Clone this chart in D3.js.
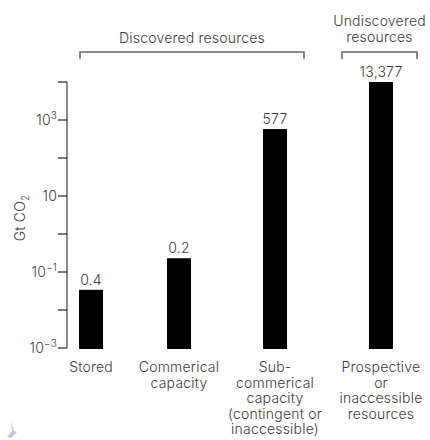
<!DOCTYPE html>
<html>
<head>
<meta charset="utf-8">
<script src="https://cdn.jsdelivr.net/npm/d3@7"></script>
<style>
  body { margin: 0; background: #fff; }
  svg text { font-family: Inter, "Open Sans", sans-serif; font-weight: 300; fill: #3a3a3a; letter-spacing: 0.2px; }
</style>
</head>
<body>
<svg id="chart" width="430" height="440"></svg>
<script>
// ***** Data ***** //
var categories = ['Stored', 'Commerical capacity', 'Sub-commerical capacity', 'Prospective or inaccessible resources'];
var values = [0.034, 0.23, 577, 13377];
var valueLabels = ['0.4', '0.2', '577', '13,377'];
var catLines = [
    ['Stored'],
    ['Commerical', 'capacity'],
    ['Sub-', 'commerical', 'capacity', '(contingent or', 'inaccessible)'],
    ['Prospective', 'or', 'inaccessible', 'resources']
];
var majorTicks = [1e3, 10, 1e-1, 1e-3];
var majorExp = ['3', '', '\u22121', '\u22123'];
var minorTicks = [1e4, 1e2, 1, 1e-2];

var svg = d3.select('#chart');
var fs = '14px';

// ***** Scales ***** //
var y = d3.scaleLog()
    .domain([1e-3, 1e4])
    .range([348, 82])
    .clamp(true);

var x = d3.scaleOrdinal()
    .domain(categories)
    .range([91, 179, 275, 381]);

var barW = 24;
var axisX = 67;
var grey = '#666';

// ***** Axis ***** //
svg.append('line')
    .attr('x1', axisX).attr('x2', axisX)
    .attr('y1', y(1e4)).attr('y2', y(1e-3))
    .attr('stroke', grey).attr('stroke-width', 1.5);

svg.selectAll('.tick')
    .data(majorTicks.concat(minorTicks))
    .enter()
    .append('line')
    .attr('x1', axisX - 9).attr('x2', axisX)
    .attr('y1', d => y(d)).attr('y2', d => y(d))
    .attr('stroke', '#222').attr('stroke-width', 1.2);

var tl = svg.selectAll('.tlab')
    .data(majorTicks)
    .enter()
    .append('text')
    .attr('x', axisX - 10)
    .attr('y', d => y(d) + 5)
    .attr('text-anchor', 'end')
    .style('font-size', fs);
tl.append('tspan').text('10');
tl.append('tspan')
    .attr('dy', -6)
    .style('font-size', '10px')
    .text((d, i) => majorExp[i]);

// axis title
var title = svg.append('text')
    .attr('transform', 'translate(25,218) rotate(-90)')
    .attr('text-anchor', 'middle')
    .style('font-size', fs);
title.append('tspan').text('Gt CO');
title.append('tspan').attr('dy', 4).style('font-size', '10px').text('2');

// ***** Bars ***** //
svg.selectAll('.bar')
    .data(values)
    .enter()
    .append('rect')
    .attr('x', (d, i) => x(categories[i]) - barW / 2)
    .attr('width', barW)
    .attr('y', d => y(d))
    .attr('height', d => y(1e-3) + 1 - y(d))
    .attr('fill', '#000');

svg.selectAll('.vlab')
    .data(values)
    .enter()
    .append('text')
    .attr('x', (d, i) => x(categories[i]))
    .attr('y', d => y(d) - 5)
    .attr('text-anchor', 'middle')
    .style('font-size', fs)
    .text((d, i) => valueLabels[i]);

// category labels
catLines.forEach(function(lines, i) {
    svg.append('text')
        .attr('text-anchor', 'middle')
        .style('font-size', fs)
        .selectAll('tspan')
        .data(lines)
        .enter()
        .append('tspan')
        .attr('x', x(categories[i]))
        .attr('y', (d, j) => 372 + j * 15.5)
        .text(d => d);
});

// ***** Brackets ***** //
function bracket(x0, x1, yb, lines, ty) {
    svg.append('path')
        .attr('d', 'M' + x0 + ',' + (yb + 7) + 'V' + yb + 'H' + x1 + 'V' + (yb + 7))
        .attr('fill', 'none')
        .attr('stroke', grey)
        .attr('stroke-width', 1.5);
    svg.append('text')
        .attr('text-anchor', 'middle')
        .style('font-size', fs)
        .selectAll('tspan')
        .data(lines)
        .enter()
        .append('tspan')
        .attr('x', (x0 + x1) / 2)
        .attr('y', (d, j) => ty + j * 16)
        .text(d => d);
}
bracket(80, 304, 52, ['Discovered resources'], 43);
bracket(342, 417, 52, ['Undiscovered', 'resources'], 26);

// little mark bottom left
svg.append('path')
    .attr('d', 'M11,421 L12,431 L7,437 L11,438 L17,432 L14,431 Z')
    .attr('fill', '#c5cadb');
</script>
</body>
</html>
